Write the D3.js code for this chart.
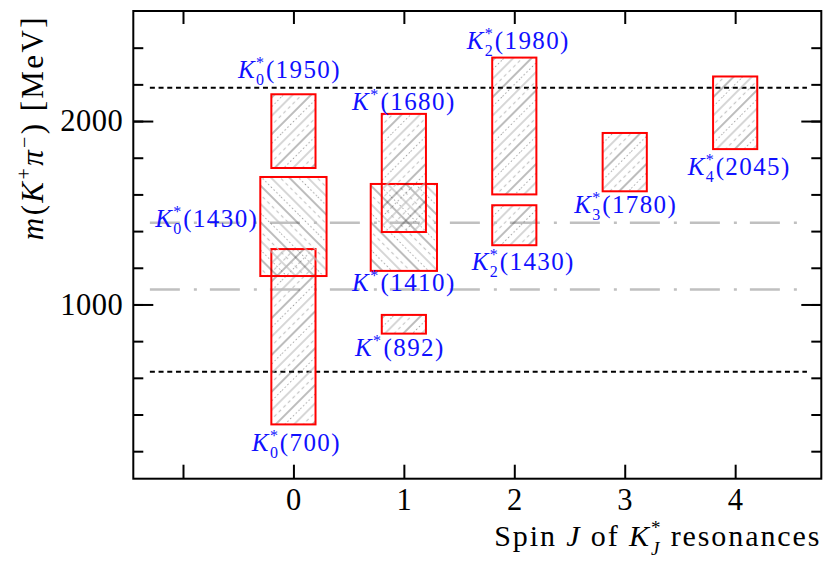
<!DOCTYPE html>
<html><head><meta charset="utf-8">
<script src="https://cdn.jsdelivr.net/npm/d3@7"></script>
<style>body{margin:0;background:#fff;} svg{display:block;}</style>
</head><body>
<svg id="c" width="830" height="567"></svg>
<script>
// ---- data ----
const spins   = [0, 0, 0, 1, 1, 1, 2, 2, 3, 4];
const subs    = ["0", "0", "0", "", "", "", "2", "2", "3", "4"];
const nominal = ["700", "1430", "1950", "892", "1410", "1680", "1430", "1980", "1780", "2045"];
const masses  = [824, 1425, 1945, 892, 1420, 1717, 1432, 1973, 1776, 2045];
const gammas  = [478, 270, 201, 51, 237, 322, 109, 373, 159, 198];
const limitLines = [633.3, 2182];      // black dotted
const refLines   = [1082, 1446];       // gray dash-dot
const yMinorTicks = [200, 400, 600, 800, 1000, 1200, 1400, 1600, 1800, 2000, 2200, 2400];
const yMajorTicks = [1000, 2000];
const xTicks = [-1, 0, 1, 2, 3, 4];
const xTickLabels = [0, 1, 2, 3, 4];

// ---- style / layout ----
const FONT = "'Liberation Serif','Times New Roman',serif";
const halfW = [0.2, 0.3, 0.2, 0.2, 0.3, 0.2, 0.2, 0.2, 0.2, 0.2];
const hatchDir = [45, -45, 45, 45, -45, 45, 45, 45, 45, 45];
const labelLayout = [
  {pos: "below", dx: 3, dy: 27},
  {pos: "left", dx: 2, dy: 0},
  {pos: "above", dx: -4, dy: 16},
  {pos: "below", dx: -4, dy: 22},
  {pos: "below", dx: 0, dy: 20},
  {pos: "above", dx: 0, dy: 4},
  {pos: "below", dx: 9, dy: 25},
  {pos: "above", dx: 4, dy: 8.5},
  {pos: "below", dx: 1, dy: 22},
  {pos: "below", dx: 4, dy: 26}
];

const svg = d3.select("#c");
const x = d3.scaleLinear().domain([-1.45, 4.78]).range([133.3, 821.3]);
const y = d3.scaleLinear().domain([50, 2600]).range([478.7, 11]);

// patterns
const defs = svg.append("defs");
function makePattern(id, angle) {
  const P = 26;
  const p = defs.append("pattern").attr("id", id)
    .attr("patternUnits", "userSpaceOnUse")
    .attr("width", P).attr("height", P)
    .attr("patternTransform", `rotate(${angle})`);
  const ln = (xx, col, w, dash) => {
    const l = p.append("line").attr("x1", xx).attr("x2", xx).attr("y1", 0).attr("y2", P)
      .attr("stroke", col).attr("stroke-width", w);
    if (dash) l.attr("stroke-dasharray", dash);
  };
  ln(1, "#222", 0.6);
  ln(7.5, "#555", 0.6, "1.3,2.6");
  ln(14, "#bbbbbb", 1.2);
  ln(20.5, "#c4c4c4", 1.2, "3.25,3.25");
}
makePattern("hf", 45);
makePattern("hb", -45);

// reference lines
const gLines = svg.append("g");
gLines.selectAll("line.ref").data(refLines).join("line")
  .attr("x1", x(-1.3)).attr("x2", x(4.63))
  .attr("y1", d => y(d)).attr("y2", d => y(d))
  .attr("stroke", "#c0c0c0").attr("stroke-width", 2.5)
  .attr("stroke-dasharray", "30,14,3,13");
gLines.selectAll("line.lim").data(limitLines).join("line")
  .attr("x1", x(-1.3)).attr("x2", x(4.65))
  .attr("y1", d => y(d)).attr("y2", d => y(d))
  .attr("stroke", "#000").attr("stroke-width", 2)
  .attr("stroke-dasharray", "5,3.7");

// boxes
const idx = d3.range(spins.length);
const gBox = svg.append("g");
gBox.selectAll("rect").data(idx).join("rect")
  .attr("x", i => x(spins[i] - halfW[i]))
  .attr("width", i => x(spins[i] + halfW[i]) - x(spins[i] - halfW[i]))
  .attr("y", i => y(masses[i] + gammas[i]))
  .attr("height", i => y(masses[i] - gammas[i]) - y(masses[i] + gammas[i]))
  .attr("fill", i => hatchDir[i] > 0 ? "url(#hf)" : "url(#hb)")
  .attr("stroke", "#ff0000").attr("stroke-width", 2);

// labels
const gLab = svg.append("g").attr("font-family", FONT).attr("font-size", 25)
  .attr("fill", "#1010ff").attr("letter-spacing", 1.4);
idx.forEach(i => {
  const L = labelLayout[i];
  let tx, ty, anchor = "middle";
  if (L.pos === "below") { tx = x(spins[i]) + L.dx; ty = y(masses[i] - gammas[i]) + L.dy; }
  else if (L.pos === "above") { tx = x(spins[i]) + L.dx; ty = y(masses[i] + gammas[i]) - L.dy; }
  else { tx = x(spins[i] - halfW[i]) - L.dx; ty = y(masses[i]) + L.dy; anchor = "end"; }
  const t = gLab.append("text").attr("x", tx).attr("y", ty).attr("text-anchor", anchor);
  t.append("tspan").attr("font-style", "italic").text("K");
  t.append("tspan").attr("font-size", 16).attr("dy", -10).text("*");
  if (subs[i]) {
    t.append("tspan").attr("font-size", 16).attr("dx", -9.4).attr("dy", 17).text(subs[i]);
    t.append("tspan").attr("dy", -7).attr("dx", 0.5).text(`(${nominal[i]})`);
  } else {
    t.append("tspan").attr("dy", 10).attr("dx", 1).text(`(${nominal[i]})`);
  }
});

// axes
function styleAxis(g) {
  g.select(".domain").remove();
  g.selectAll(".tick line").attr("stroke", "#000").attr("stroke-width", 2);
  g.selectAll(".tick text").attr("font-family", FONT).attr("font-size", 30.5)
    .attr("fill", "#000").attr("letter-spacing", 0.5);
}
svg.append("g").attr("transform", `translate(${x.range()[0]},0)`)
  .call(d3.axisLeft(y).tickValues(yMinorTicks).tickSize(-10).tickFormat("")).call(styleAxis);
svg.append("g").attr("transform", `translate(${x.range()[0]},0)`)
  .call(d3.axisLeft(y).tickValues(yMajorTicks).tickSize(-20).tickPadding(10).tickFormat(d3.format("d"))).call(styleAxis);
svg.append("g").attr("transform", `translate(${x.range()[1]},0)`)
  .call(d3.axisRight(y).tickValues(yMinorTicks).tickSize(-10).tickFormat("")).call(styleAxis);
svg.append("g").attr("transform", `translate(${x.range()[1]},0)`)
  .call(d3.axisRight(y).tickValues(yMajorTicks).tickSize(-20).tickFormat("")).call(styleAxis);
svg.append("g").attr("transform", `translate(0,${y.range()[0]})`)
  .call(d3.axisBottom(x).tickValues(xTicks).tickSize(-14).tickPadding(10)
    .tickFormat(d => xTickLabels.includes(d) ? d : "")).call(styleAxis);
svg.append("g").attr("transform", `translate(0,${y.range()[1]})`)
  .call(d3.axisTop(x).tickValues(xTicks).tickSize(-13).tickFormat("")).call(styleAxis);

// frame
svg.append("rect").attr("x", x.range()[0]).attr("y", y.range()[1])
  .attr("width", x.range()[1] - x.range()[0]).attr("height", y.range()[0] - y.range()[1])
  .attr("fill", "none").attr("stroke", "#000").attr("stroke-width", 2);

// axis titles
const xt = svg.append("text").attr("x", x.range()[1]).attr("y", 546).attr("text-anchor", "end")
  .attr("font-family", FONT).attr("font-size", 30).attr("letter-spacing", 1.9).attr("fill", "#000");
xt.append("tspan").text("Spin ");
xt.append("tspan").attr("font-style", "italic").text("J");
xt.append("tspan").text(" of ");
xt.append("tspan").attr("font-style", "italic").text("K");
xt.append("tspan").attr("font-size", 19).attr("dy", -12).text("*");
xt.append("tspan").attr("font-size", 19).attr("font-style", "italic").attr("dx", -11.4).attr("dy", 21).text("J");
xt.append("tspan").attr("dy", -9).text(" resonances");

const yt = svg.append("text").attr("transform", "translate(43,15) rotate(-90)").attr("text-anchor", "end")
  .attr("font-family", FONT).attr("font-size", 31).attr("letter-spacing", 2.4).attr("fill", "#000");
yt.append("tspan").attr("font-style", "italic").text("m");
yt.append("tspan").text("(");
yt.append("tspan").attr("font-style", "italic").text("K");
yt.append("tspan").attr("font-size", 20).attr("dy", -12).text("+");
yt.append("tspan").attr("font-style", "italic").attr("dy", 12).text("π");
yt.append("tspan").attr("font-size", 20).attr("dy", -12).text("−");
yt.append("tspan").attr("dy", 12).text(")  [MeV]");
</script>
</body></html>
